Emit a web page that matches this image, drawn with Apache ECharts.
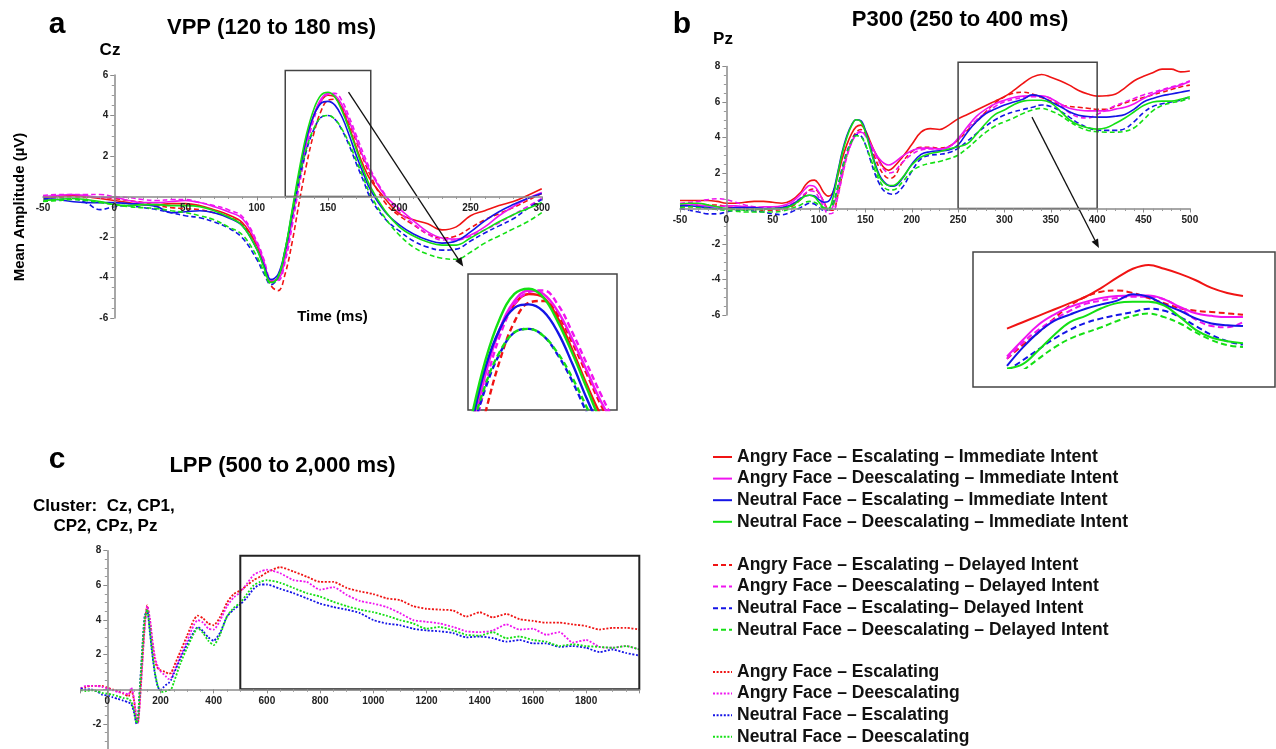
<!DOCTYPE html>
<html><head><meta charset="utf-8">
<script src="https://cdn.jsdelivr.net/npm/echarts@6/dist/echarts.min.js"></script>
<style>html,body{margin:0;padding:0;background:#fff}#c{width:1276px;height:749px}</style>
</head><body><div id="c"></div>
<script>
// ---------- Panel a (VPP, Cz) ----------
const T_A = [-50,-40,-30,-20,-10,0,10,20,30,40,50,60,70,80,90,100,105,110,115,120,125,130,135,140,145,150,155,160,165,170,175,180,190,200,210,220,230,240,250,260,270,280,290,300];
const A_SR = [-0.05,0.0,0.05,0.0,-0.1,-0.2,-0.3,-0.4,-0.4,-0.35,-0.35,-0.45,-0.65,-0.9,-1.3,-2.4,-3.3,-4.2,-4.0,-2.8,-0.9,1.1,2.8,4.0,4.7,5.0,4.9,4.3,3.4,2.4,1.5,0.8,-0.1,-0.85,-1.15,-1.35,-1.65,-1.5,-0.95,-0.7,-0.45,-0.25,0.05,0.38];
const A_SM = [0.0,0.05,0.1,0.05,-0.05,-0.05,-0.2,-0.3,-0.3,-0.25,-0.2,-0.3,-0.5,-0.75,-1.1,-2.3,-3.2,-4.15,-4.1,-3.0,-1.1,0.9,2.7,4.0,4.8,5.1,5.0,4.5,3.7,2.8,1.9,1.2,0.05,-0.6,-1.2,-1.75,-2.05,-2.1,-1.9,-1.5,-0.95,-0.5,-0.1,0.2];
const A_SB = [-0.1,-0.15,-0.25,-0.3,-0.3,-0.3,-0.35,-0.4,-0.5,-0.8,-0.75,-0.7,-0.8,-1.05,-1.45,-2.6,-3.4,-4.1,-3.85,-2.6,-0.7,1.2,2.9,4.0,4.6,4.7,4.5,3.9,3.0,2.0,1.1,0.3,-0.75,-1.4,-1.85,-2.15,-2.3,-2.2,-1.75,-1.2,-0.75,-0.4,-0.1,0.15];
const A_SG = [-0.2,-0.15,-0.1,-0.15,-0.25,-0.4,-0.45,-0.4,-0.4,-0.45,-0.45,-0.5,-0.7,-1.0,-1.45,-2.6,-3.5,-4.25,-4.0,-2.6,-0.6,1.4,3.1,4.3,5.0,5.15,4.9,4.2,3.3,2.3,1.3,0.45,-0.7,-1.5,-1.95,-2.25,-2.4,-2.4,-2.05,-1.65,-1.25,-0.9,-0.6,-0.3];
const A_DR = [-0.05,-0.05,0.0,-0.05,-0.05,-0.1,-0.2,-0.3,-0.45,-0.55,-0.6,-0.65,-0.8,-1.0,-1.4,-2.4,-3.4,-4.4,-4.65,-3.8,-2.2,-0.2,1.6,3.1,4.2,4.75,4.8,4.4,3.6,2.7,1.8,1.0,-0.3,-0.95,-1.4,-1.85,-2.05,-1.95,-1.55,-1.15,-0.85,-0.55,-0.2,0.15];
const A_DM = [0.05,0.1,0.1,0.1,0.1,0.0,-0.05,-0.15,-0.2,-0.15,-0.15,-0.3,-0.45,-0.65,-1.0,-2.2,-3.1,-4.1,-4.15,-3.2,-1.4,0.6,2.4,3.8,4.7,5.05,5.1,4.7,3.9,3.0,2.1,1.3,0.1,-0.75,-1.35,-1.85,-2.15,-2.15,-1.95,-1.65,-1.3,-0.9,-0.5,-0.1];
const A_DB = [-0.15,-0.15,-0.1,-0.3,-0.65,-0.5,-0.45,-0.55,-0.65,-0.8,-0.95,-1.05,-1.25,-1.55,-2.05,-3.1,-3.8,-4.35,-4.0,-2.7,-0.9,0.9,2.3,3.3,3.9,4.0,3.8,3.25,2.5,1.6,0.75,-0.1,-1.1,-1.7,-2.2,-2.5,-2.65,-2.6,-2.2,-1.8,-1.45,-1.1,-0.6,-0.15];
const A_DG = [-0.25,-0.2,-0.15,-0.2,-0.3,-0.4,-0.5,-0.55,-0.6,-0.7,-0.8,-0.95,-1.15,-1.5,-1.9,-2.95,-3.7,-4.3,-3.95,-2.6,-0.8,1.0,2.4,3.35,3.9,4.0,3.8,3.3,2.6,1.75,0.9,0.05,-1.05,-1.9,-2.5,-2.85,-3.05,-3.1,-2.75,-2.3,-1.95,-1.6,-1.25,-0.8];

// ---------- Panel b (P300, Pz) ----------
const T_B = [-50,-40,-30,-20,-10,0,10,20,30,40,50,60,70,80,85,90,95,100,105,110,115,120,125,130,135,140,145,150,155,160,165,170,175,180,190,200,210,220,230,240,250,260,270,280,290,300,310,320,330,340,350,360,370,380,390,400,410,420,430,440,450,460,470,480,490,500];
const B_SR = [0.45,0.45,0.45,0.45,0.4,0.3,0.3,0.35,0.4,0.4,0.35,0.3,0.45,0.9,1.3,1.55,1.6,1.35,0.9,0.7,0.9,1.8,2.8,3.6,4.2,4.6,4.7,4.4,3.8,3.2,2.7,2.3,2.15,2.3,2.9,3.6,4.3,4.5,4.45,4.7,5.05,5.3,5.55,5.8,6.05,6.3,6.65,7.05,7.4,7.55,7.4,7.2,6.95,6.65,6.45,6.33,6.35,6.45,6.8,7.2,7.45,7.65,7.85,7.85,7.7,7.75];
const B_SM = [0.2,0.25,0.2,0.15,0.1,0.15,0.15,0.1,0.05,0.1,0.1,0.15,0.35,0.8,1.1,1.3,1.25,0.9,0.35,-0.1,0.1,1.0,2.1,3.0,3.7,4.15,4.3,4.15,3.7,3.2,2.8,2.55,2.45,2.55,2.95,3.25,3.4,3.4,3.35,3.45,3.95,4.6,5.2,5.6,5.9,6.1,6.25,6.33,6.35,6.35,6.2,5.9,5.65,5.55,5.5,5.5,5.5,5.6,5.7,5.9,6.2,6.45,6.65,6.8,6.95,7.15];
const B_SB = [0.15,0.15,0.1,0.05,0.0,0.0,0.05,0.05,0.05,0.0,0.0,0.05,0.2,0.55,0.7,0.75,0.7,0.5,0.35,0.4,0.9,2.0,3.2,4.1,4.7,5.0,4.95,4.4,3.5,2.6,1.9,1.5,1.3,1.25,1.7,2.5,3.05,3.2,3.25,3.3,3.58,4.3,4.9,5.35,5.6,5.83,6.0,6.15,6.4,6.3,6.0,5.75,5.45,5.25,5.18,5.15,5.15,5.2,5.3,5.6,6.0,6.2,6.35,6.45,6.55,6.65];
const B_SG = [0.25,0.3,0.3,0.2,0.1,0.0,-0.05,-0.1,-0.05,-0.05,0.0,0.0,0.15,0.5,0.7,0.75,0.65,0.35,0.05,0.0,0.6,1.9,3.1,4.0,4.65,5.0,4.9,4.3,3.4,2.5,1.8,1.45,1.3,1.3,1.75,2.45,2.9,3.1,3.2,3.35,3.48,3.65,4.2,4.8,5.3,5.55,5.85,6.05,6.1,6.1,5.95,5.5,5.0,4.7,4.55,4.47,4.55,4.8,5.1,5.45,5.8,6.0,6.05,6.05,6.15,6.3];
const B_DR = [0.1,0.1,0.15,0.2,0.2,0.1,0.05,0.0,-0.05,-0.1,-0.1,-0.05,0.1,0.5,0.8,1.05,1.1,0.85,0.4,-0.05,-0.1,0.7,1.9,3.0,3.8,4.3,4.45,4.2,3.6,2.9,2.3,1.9,1.7,1.75,2.6,3.2,3.45,3.45,3.4,3.5,3.86,4.4,4.9,5.45,5.95,6.3,6.5,6.55,6.45,6.25,6.05,5.85,5.75,5.7,5.65,5.59,5.6,5.75,5.95,6.1,6.25,6.4,6.55,6.7,6.85,6.95];
const B_DM = [0.3,0.35,0.4,0.5,0.55,0.5,0.35,0.2,0.1,0.05,0.05,0.1,0.25,0.6,0.85,1.0,0.95,0.6,0.1,-0.3,-0.25,0.6,1.8,2.9,3.7,4.2,4.35,4.1,3.6,3.1,2.6,2.2,2.0,2.05,2.6,3.05,3.3,3.35,3.35,3.5,3.86,4.5,5.0,5.4,5.75,6.02,6.15,6.25,6.3,6.3,6.2,5.85,5.4,5.15,5.1,5.3,5.55,5.8,6.0,6.2,6.4,6.55,6.7,6.85,7.0,7.2];
const B_DB = [0.0,-0.1,-0.2,-0.3,-0.3,-0.2,-0.1,-0.1,-0.15,-0.2,-0.3,-0.35,-0.2,0.05,0.2,0.3,0.25,0.05,-0.1,-0.05,0.3,1.2,2.3,3.2,3.8,4.15,4.1,3.6,2.8,2.0,1.4,1.0,0.85,0.8,1.2,2.1,2.8,3.0,3.05,3.15,3.39,3.8,4.23,4.65,5.0,5.27,5.45,5.58,5.7,5.83,5.75,5.5,5.15,4.8,4.55,4.42,4.4,4.4,4.5,4.9,5.4,5.75,5.9,6.0,6.1,6.3];
const B_DG = [0.05,0.1,0.05,0.0,-0.05,-0.1,-0.15,-0.2,-0.2,-0.2,-0.2,-0.15,0.0,0.2,0.35,0.4,0.35,0.2,0.0,-0.1,0.2,1.1,2.2,3.1,3.75,4.1,4.05,3.6,2.9,2.2,1.6,1.2,1.05,1.05,1.5,2.1,2.4,2.55,2.65,2.8,3.01,3.4,3.86,4.3,4.65,4.89,5.1,5.35,5.55,5.64,5.5,5.25,4.9,4.6,4.4,4.33,4.3,4.3,4.35,4.55,5.0,5.5,5.8,5.95,6.05,6.2];

// ---------- Panel c (LPP, cluster) ----------
const T_C = [-100,-80,-60,-40,-20,0,20,40,60,80,90,100,110,115,120,130,140,150,160,170,180,190,200,210,220,230,240,250,275,300,325,340,360,380,400,425,450,475,500,525,550,575,600,650,700,750,800,850,900,950,1000,1050,1100,1150,1200,1250,1300,1350,1400,1450,1500,1550,1600,1650,1700,1750,1800,1850,1900,1950,2000];
const C_R = [0.05,0.15,0.2,0.2,0.2,0.1,0.0,-0.1,-0.25,-0.4,0.0,-0.6,-1.8,-1.95,-1.2,1.2,3.6,4.85,4.0,2.6,1.6,1.2,1.1,1.05,1.0,0.9,0.95,1.3,2.2,3.1,4.0,4.25,4.1,3.8,3.7,4.2,5.0,5.5,5.7,6.0,6.3,6.5,6.75,7.05,6.8,6.5,6.2,6.2,5.85,5.65,5.5,5.25,5.15,4.8,4.65,4.6,4.55,4.2,4.45,4.15,4.35,4.05,3.95,3.85,3.85,3.75,3.65,3.45,3.55,3.55,3.45];
const C_M = [0.05,0.2,0.2,0.2,0.15,0.05,-0.05,-0.15,-0.2,-0.3,0.1,-0.5,-1.7,-1.95,-1.3,1.0,3.4,4.8,4.1,2.8,1.8,1.3,1.05,0.9,0.75,0.6,0.65,1.0,1.9,2.8,3.7,4.0,3.85,3.5,3.45,4.0,4.8,5.3,5.6,6.1,6.6,6.8,6.9,6.7,6.3,6.2,5.75,5.9,5.45,5.1,4.95,4.75,4.4,4.0,3.9,3.8,3.6,3.35,3.3,3.4,3.75,3.45,3.5,3.15,3.3,2.7,2.85,2.45,2.4,2.5,2.3];
const C_B = [0.05,0.0,0.0,-0.1,-0.3,-0.35,-0.45,-0.55,-0.65,-0.75,-0.85,-1.3,-2.0,-1.7,-0.5,2.0,4.2,4.55,3.3,1.9,0.8,0.15,-0.05,0.1,0.25,0.35,0.55,0.9,1.8,2.6,3.3,3.6,3.35,3.0,2.8,3.3,4.2,4.6,4.9,5.3,5.8,6.05,6.05,5.8,5.55,5.25,4.95,4.75,4.6,4.4,4.0,3.8,3.7,3.5,3.4,3.35,3.25,3.0,3.05,2.95,2.75,2.85,2.65,2.65,2.45,2.5,2.4,2.15,2.3,2.1,1.95];
const C_G = [-0.05,-0.1,-0.05,-0.1,-0.2,-0.25,-0.3,-0.4,-0.5,-0.55,-0.7,-1.2,-1.95,-1.75,-0.6,1.8,4.0,4.6,3.4,2.0,0.9,0.2,-0.1,-0.15,-0.1,-0.05,0.0,0.4,1.5,2.4,3.2,3.55,3.25,2.8,2.55,3.2,4.2,4.7,5.0,5.5,6.0,6.2,6.3,6.15,5.85,5.55,5.35,5.05,4.8,4.6,4.45,4.25,4.0,3.8,3.5,3.6,3.4,3.15,3.1,3.3,2.95,3.05,2.85,2.75,2.5,2.6,2.5,2.45,2.4,2.5,2.3];

// ---------- Names ----------
const NAMES_IMM = ['Angry Face – Escalating – Immediate Intent','Angry Face – Deescalating – Immediate Intent','Neutral Face – Escalating – Immediate Intent','Neutral Face – Deescalating – Immediate Intent'];
const NAMES_DEL = ['Angry Face – Escalating – Delayed Intent','Angry Face – Deescalating – Delayed Intent','Neutral Face – Escalating– Delayed Intent','Neutral Face – Deescalating – Delayed Intent'];
const NAMES_CL = ['Angry Face – Escalating','Angry Face – Deescalating','Neutral Face – Escalating','Neutral Face – Deescalating'];

// ---------- Highlight boxes and arrows (data coords: x0,y0,x1,y1) ----------
const BOX_A = [120, 0, 180, 6.22];
const BOX_B = [250, 0, 400, 8.24];
const BOX_C = [500, 0, 2000, 7.71];
const ARROW_A = [164.4, 5.15, 244.9, -3.46];
const ARROW_B = [329.7, 5.15, 401.9, -2.23];

const FONT = "'Liberation Sans', Arial, Helvetica, sans-serif";
const COL = ['#f01414', '#f014f0', '#1414e6', '#14e014'];
const DASH = [5, 3];
const DOT = [2, 1.6];

function pairs(T, V, lo, hi) {
  const out = [];
  for (let i = 0; i < T.length; i++) {
    if ((lo === undefined || T[i] >= lo) && (hi === undefined || T[i] <= hi)) out.push([T[i], V[i]]);
  }
  return out;
}
function line(name, color, type, width, ai, data, smooth) {
  return { type: 'line', name, xAxisIndex: ai, yAxisIndex: ai, data, symbol: 'none', showSymbol: false,
    smooth, lineStyle: { color, width, type }, itemStyle: { color }, silent: true, animation: false, z: 2 };
}
function boxSeries(ai, rect, lw, color) {
  return { type: 'custom', xAxisIndex: ai, yAxisIndex: ai, clip: false, silent: true, data: [rect], z: 5,
    renderItem: (p, api) => {
      const a = api.coord([api.value(0), api.value(1)]);
      const b = api.coord([api.value(2), api.value(3)]);
      return { type: 'rect', shape: { x: Math.min(a[0], b[0]), y: Math.min(a[1], b[1]),
        width: Math.abs(b[0] - a[0]), height: Math.abs(b[1] - a[1]) },
        style: { fill: 'none', stroke: color, lineWidth: lw } };
    } };
}
function arrowSeries(ai, arr) {
  return { type: 'custom', xAxisIndex: ai, yAxisIndex: ai, clip: false, silent: true, data: [arr], z: 6,
    renderItem: (p, api) => {
      const a = api.coord([api.value(0), api.value(1)]);
      const b = api.coord([api.value(2), api.value(3)]);
      const dx = b[0] - a[0], dy = b[1] - a[1], L = Math.hypot(dx, dy), ux = dx / L, uy = dy / L;
      const hl = 9, hw = 3.6, bx = b[0] - ux * hl, by = b[1] - uy * hl;
      return { type: 'group', children: [
        { type: 'line', shape: { x1: a[0], y1: a[1], x2: bx, y2: by }, style: { stroke: '#111', lineWidth: 1.3 } },
        { type: 'polygon', shape: { points: [[b[0], b[1]], [bx - uy * hw, by + ux * hw], [bx + uy * hw, by - ux * hw]] }, style: { fill: '#111' } }
      ] };
    } };
}

// grid boxes (layout)
const G = [
  { left: 43, top: 75, width: 498.75, height: 243 },
  { left: 468, top: 274, width: 149, height: 136 },
  { left: 680, top: 66.5, width: 509.85, height: 248.5 },
  { left: 973, top: 252, width: 303, height: 116 },
  { left: 80.7, top: 550.7, width: 558.6, height: 208 }
];
// pixel shift that places each axis at the other axis' zero (from the axis ranges)
function zeroOffsetY(g, ymin, ymax) { return -(g.height * (0 - ymin) / (ymax - ymin)); }
function zeroOffsetX(g, xmin, xmax) { return -(g.width * (0 - xmin) / (xmax - xmin)); }

const axisLineStyle = { color: '#8a8a8a', width: 1.5 };
const labelStyle = { fontSize: 10, fontWeight: 'bold', color: '#222', fontFamily: FONT };
function mainX(opts) {
  return Object.assign({ type: 'value', position: 'bottom', z: 8, splitLine: { show: false },
    axisLine: { show: true, onZero: false, lineStyle: axisLineStyle },
    axisTick: { show: true, length: 4, lineStyle: { color: '#8a8a8a' } },
    minorTick: { show: true, splitNumber: 5, length: 2.5, lineStyle: { color: '#9a9a9a' } },
    axisLabel: Object.assign({ margin: 7 }, labelStyle) }, opts);
}
function mainY(opts) {
  return Object.assign({ type: 'value', position: 'left', z: 8, splitLine: { show: false },
    axisLine: { show: true, onZero: false, lineStyle: axisLineStyle },
    axisTick: { show: true, length: 4, lineStyle: { color: '#8a8a8a' } },
    minorTick: { show: true, splitNumber: 4, length: 2.5, lineStyle: { color: '#9a9a9a' } },
    axisLabel: Object.assign({ margin: 6, formatter: v => (v === 0 ? '' : String(v)) }, labelStyle) }, opts);
}
function hiddenAxis(min, max) { return { type: 'value', show: false, min, max, splitLine: { show: false } }; }

const gridBase = { containLabel: false, outerBoundsMode: 'none' };
const grid = [
  Object.assign({}, G[0], gridBase),
  Object.assign({ show: true, borderColor: '#444', borderWidth: 1.5, backgroundColor: 'transparent' }, G[1], gridBase),
  Object.assign({}, G[2], gridBase),
  Object.assign({}, G[3], gridBase),
  Object.assign({}, G[4], gridBase)
];
const xAxis = [
  mainX({ gridIndex: 0, min: -50, max: 300, interval: 50, offset: zeroOffsetY(G[0], -6, 6) }),
  Object.assign(hiddenAxis(129, 180.4), { gridIndex: 1 }),
  mainX({ gridIndex: 2, min: -50, max: 500, interval: 50, offset: zeroOffsetY(G[2], -6, 8) }),
  Object.assign(hiddenAxis(228.4, 421), { gridIndex: 3 }),
  mainX({ gridIndex: 4, min: -100, max: 2000, splitNumber: 10, minInterval: 200, maxInterval: 200,
    offset: zeroOffsetY(G[4], -4, 8),
    minorTick: { show: true, splitNumber: 4, length: 2.5, lineStyle: { color: '#9a9a9a' } },
    axisLabel: Object.assign({ margin: 7, formatter: v => (v < 0 || v >= 2000 ? '' : String(v)) }, labelStyle) })
];
const yAxis = [
  mainY({ gridIndex: 0, min: -6, max: 6, interval: 2, offset: zeroOffsetX(G[0], -50, 300) }),
  Object.assign(hiddenAxis(1.68, 5.57), { gridIndex: 1 }),
  mainY({ gridIndex: 2, min: -6, max: 8, interval: 2, offset: zeroOffsetX(G[2], -50, 500) }),
  Object.assign(hiddenAxis(3.5, 8.06), { gridIndex: 3 }),
  mainY({ gridIndex: 4, min: -4, max: 8, interval: 2, offset: zeroOffsetX(G[4], -100, 2000) })
];

const series = [];
const A_SOLID = [A_SR, A_SM, A_SB, A_SG], A_DASH = [A_DR, A_DM, A_DB, A_DG];
const B_SOLID = [B_SR, B_SM, B_SB, B_SG], B_DASHS = [B_DR, B_DM, B_DB, B_DG];
const C_ALL = [C_R, C_M, C_B, C_G];
for (let k = 0; k < 4; k++) {
  series.push(line(NAMES_DEL[k], COL[k], DASH, 1.6, 0, pairs(T_A, A_DASH[k]), 0.4));
  series.push(line(NAMES_IMM[k], COL[k], 'solid', 1.6, 0, pairs(T_A, A_SOLID[k]), 0.4));
  series.push(line(NAMES_DEL[k], COL[k], [6, 3.5], 2.4, 1, pairs(T_A, A_DASH[k]), 0.4));
  series.push(line(NAMES_IMM[k], COL[k], 'solid', 2.4, 1, pairs(T_A, A_SOLID[k]), 0.4));
  series.push(line(NAMES_DEL[k], COL[k], DASH, 1.6, 2, pairs(T_B, B_DASHS[k]), 0.4));
  series.push(line(NAMES_IMM[k], COL[k], 'solid', 1.6, 2, pairs(T_B, B_SOLID[k]), 0.4));
  series.push(line(NAMES_DEL[k], COL[k], [6, 3.5], 2.0, 3, pairs(T_B, B_DASHS[k], 250, 400), 0.4));
  series.push(line(NAMES_IMM[k], COL[k], 'solid', 2.0, 3, pairs(T_B, B_SOLID[k], 250, 400), 0.4));
  series.push(line(NAMES_CL[k], COL[k], DOT, 1.8, 4, pairs(T_C, C_ALL[k]), 0.2));
}
series.push(boxSeries(0, BOX_A, 1.5, '#444'));
series.push(boxSeries(2, BOX_B, 1.5, '#444'));
series.push(boxSeries(4, BOX_C, 2, '#222'));
series.push(arrowSeries(0, ARROW_A));
series.push(arrowSeries(2, ARROW_B));

const legendTops = [446.2, 554.2, 661.2];
const legend = [NAMES_IMM, NAMES_DEL, NAMES_CL].map((names, gi) => ({
  data: names, orient: 'vertical', left: 712, top: legendTops[gi], padding: 0,
  itemWidth: 19, itemHeight: 10, itemGap: 0, selectedMode: false,
  itemStyle: { opacity: 0 },
  textStyle: { fontSize: 17.5, fontWeight: 'bold', color: '#111', fontFamily: FONT, lineHeight: 21.6 }
}));

function txt(x, y, text, size, extra) {
  return Object.assign({ type: 'text', x, y, silent: true,
    style: { text, font: 'bold ' + size + 'px ' + FONT, fill: '#000', align: 'center', verticalAlign: 'middle' } }, extra || {});
}
const graphic = [
  txt(57, 25, 'a', 30),
  txt(271.5, 28, 'VPP (120 to 180 ms)', 22),
  txt(110, 50, 'Cz', 17),
  txt(20, 207, 'Mean Amplitude (µV)', 15, { rotation: Math.PI / 2 }),
  txt(332.5, 316.5, 'Time (ms)', 15),
  txt(682, 24.6, 'b', 30),
  txt(960, 20, 'P300 (250 to 400 ms)', 22),
  txt(723, 39.5, 'Pz', 17),
  txt(57, 459.6, 'c', 30),
  txt(282.5, 466, 'LPP (500 to 2,000 ms)', 22),
  { type: 'text', x: 33, y: 506, silent: true, style: { text: 'Cluster:  Cz, CP1,', font: 'bold 17px ' + FONT, fill: '#000', align: 'left', verticalAlign: 'middle' } },
  { type: 'text', x: 53.5, y: 526, silent: true, style: { text: 'CP2, CPz, Pz', font: 'bold 17px ' + FONT, fill: '#000', align: 'left', verticalAlign: 'middle' } },
  { type: 'rect', silent: true, shape: { x: 973, y: 252, width: 302, height: 135 }, style: { fill: 'none', stroke: '#444', lineWidth: 1.5 } }
];

const chart = echarts.init(document.getElementById('c'), null, { renderer: 'canvas' });
chart.setOption({
  backgroundColor: '#fff', animation: false, tooltip: { show: false },
  grid, xAxis, yAxis, series, legend, graphic
});
</script></body></html>
